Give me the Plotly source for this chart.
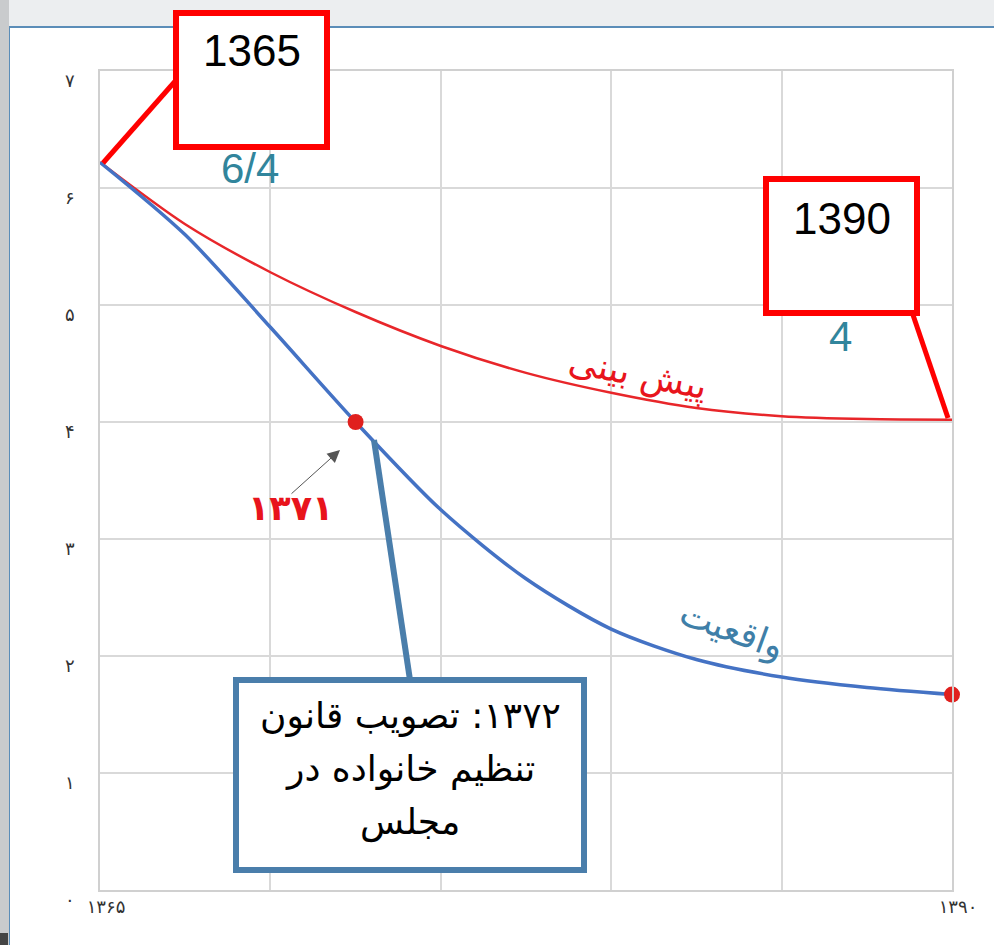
import plotly.graph_objects as go

# data
years_real = [1365, 1367.5, 1370, 1372.5, 1375, 1377.5, 1380, 1382.5, 1385, 1387.5, 1390]
rate_real = [6.22, 5.6, 4.81, 4.0, 3.25, 2.66, 2.23, 1.97, 1.82, 1.73, 1.67]

years_pred = [1365, 1367.5, 1370, 1372.5, 1375, 1377.5, 1380, 1382.5, 1385, 1387.5, 1390]
rate_pred = [6.22, 5.69, 5.28, 4.94, 4.65, 4.42, 4.25, 4.12, 4.05, 4.025, 4.02]

dot_years = [1372.5, 1390]
dot_rates = [4.0, 1.67]

x_ticks = [1365, 1370, 1375, 1380, 1385, 1390]
x_labels = ["۱۳۶۵", "", "", "", "", "۱۳۹۰"]
y_ticks = [0, 1, 2, 3, 4, 5, 6, 7]
y_labels = ["۰", "۱", "۲", "۳", "۴", "۵", "۶", "۷"]

W, H = 994, 945
L, R, T, B = 100, 952, 71, 890  # plot area in pixels

FA = "DejaVu Sans"
EN = "Liberation Sans, Arial"
RED = "#ff0000"
TEAL = "#31859c"
STEEL = "#4a7eab"


def px(x):
    return (x - L) / (R - L)


def py(y):
    return (B - y) / (B - T)


def rtl(s):
    return "\u202b" + s + "\u202c"


fig = go.Figure()
fig.add_trace(go.Scatter(x=years_pred, y=rate_pred, mode="lines",
                         line=dict(color="#e8262a", width=2.5, shape="spline", smoothing=0.8),
                         hoverinfo="skip"))
fig.add_trace(go.Scatter(x=years_real, y=rate_real, mode="lines",
                         line=dict(color="#4472c4", width=3.5, shape="spline", smoothing=0.8),
                         hoverinfo="skip"))
fig.add_trace(go.Scatter(x=dot_years, y=dot_rates, mode="markers",
                         marker=dict(color="#e0201e", size=16),
                         cliponaxis=False, hoverinfo="skip"))

shapes = [
    # page frame
    dict(type="rect", x0=px(0), x1=px(9), y0=py(0), y1=py(W), fillcolor="#c9cbcd", line_width=0),
    dict(type="rect", x0=px(0), x1=px(8), y0=py(H), y1=py(933), fillcolor="#444", line_width=0),
    dict(type="rect", x0=px(9), x1=px(1010), y0=py(27), y1=py(960),
         fillcolor="white", line=dict(color="#5b8db8", width=2), layer="below"),
    # connectors
    dict(type="line", x0=px(103), y0=py(163), x1=px(178), y1=py(78), line=dict(color=RED, width=5)),
    dict(type="line", x0=px(912), y0=py(312), x1=px(948), y1=py(418), line=dict(color=RED, width=5)),
    dict(type="line", x0=px(374), y0=py(440), x1=px(410), y1=py(680), line=dict(color=STEEL, width=6)),
    # boxes
    dict(type="rect", x0=px(176), x1=px(327), y0=py(13), y1=py(147),
         fillcolor="white", line=dict(color=RED, width=6)),
    dict(type="rect", x0=px(766), x1=px(917), y0=py(179), y1=py(313),
         fillcolor="white", line=dict(color=RED, width=6)),
    dict(type="rect", x0=px(236), x1=px(584), y0=py(680), y1=py(870),
         fillcolor="white", line=dict(color=STEEL, width=6)),
]
for s in shapes:
    s.update(xref="paper", yref="paper")


def note(text, x, y, size, color, family=EN, angle=0):
    fig.add_annotation(text=text, x=px(x), y=py(y), xref="paper", yref="paper",
                       showarrow=False, xanchor="center", yanchor="middle",
                       textangle=angle, font=dict(family=family, size=size, color=color))


note("1365", 252, 50, 44, "black")
note("6/4", 250, 168, 42, TEAL)
note("1390", 842, 218, 44, "black")
note("4", 840, 337, 42, TEAL)
note(rtl("پیش بینی"), 638, 374, 36, "#e8141c", FA, 11)
note(rtl("واقعیت"), 732, 630, 36, "#3f7fa8", FA, 20)
note("<b>۱۳۷۱</b>", 290, 508, 35, "#e8141c", FA)
note(rtl("۱۳۷۲: تصویب قانون"), 410, 716, 36, "black", FA)
note(rtl("تنظیم خانواده در"), 410, 769, 36, "black", FA)
note(rtl("مجلس"), 410, 822, 36, "black", FA)

# small arrow pointing at the 1371 dot
fig.add_annotation(x=px(340), y=py(450), xref="paper", yref="paper", text="",
                   showarrow=True, ax=-50, ay=45, arrowhead=2, arrowsize=2.5,
                   arrowwidth=1, arrowcolor="#555")

fig.update_layout(
    width=W, height=H, autosize=False,
    margin=dict(l=L, r=W - R, t=T, b=H - B, pad=0),
    paper_bgcolor="#eceef0", plot_bgcolor="white",
    showlegend=False, shapes=shapes,
)
fig.update_xaxes(range=[1365, 1390], tickvals=x_ticks, ticktext=x_labels,
                 showgrid=True, gridcolor="#d9d9d9", gridwidth=1.5,
                 showline=True, linecolor="#d0d0d0", linewidth=1.5, mirror=True,
                 zeroline=False, ticks="", ticklabelshift=6,
                 tickfont=dict(family=FA, size=18, color="#333"))
fig.update_yaxes(range=[0, 7], tickvals=y_ticks, ticktext=y_labels,
                 showgrid=True, gridcolor="#d9d9d9", gridwidth=1.5,
                 showline=True, linecolor="#d0d0d0", linewidth=1.5, mirror=True,
                 zeroline=False, ticks="", ticklabelstandoff=20, ticklabelshift=10,
                 tickfont=dict(family=FA, size=18, color="#333"))

fig.write_html("out.html", config={"displayModeBar": False},
               post_script="document.body.style.margin='0';document.body.style.overflow='hidden';")
